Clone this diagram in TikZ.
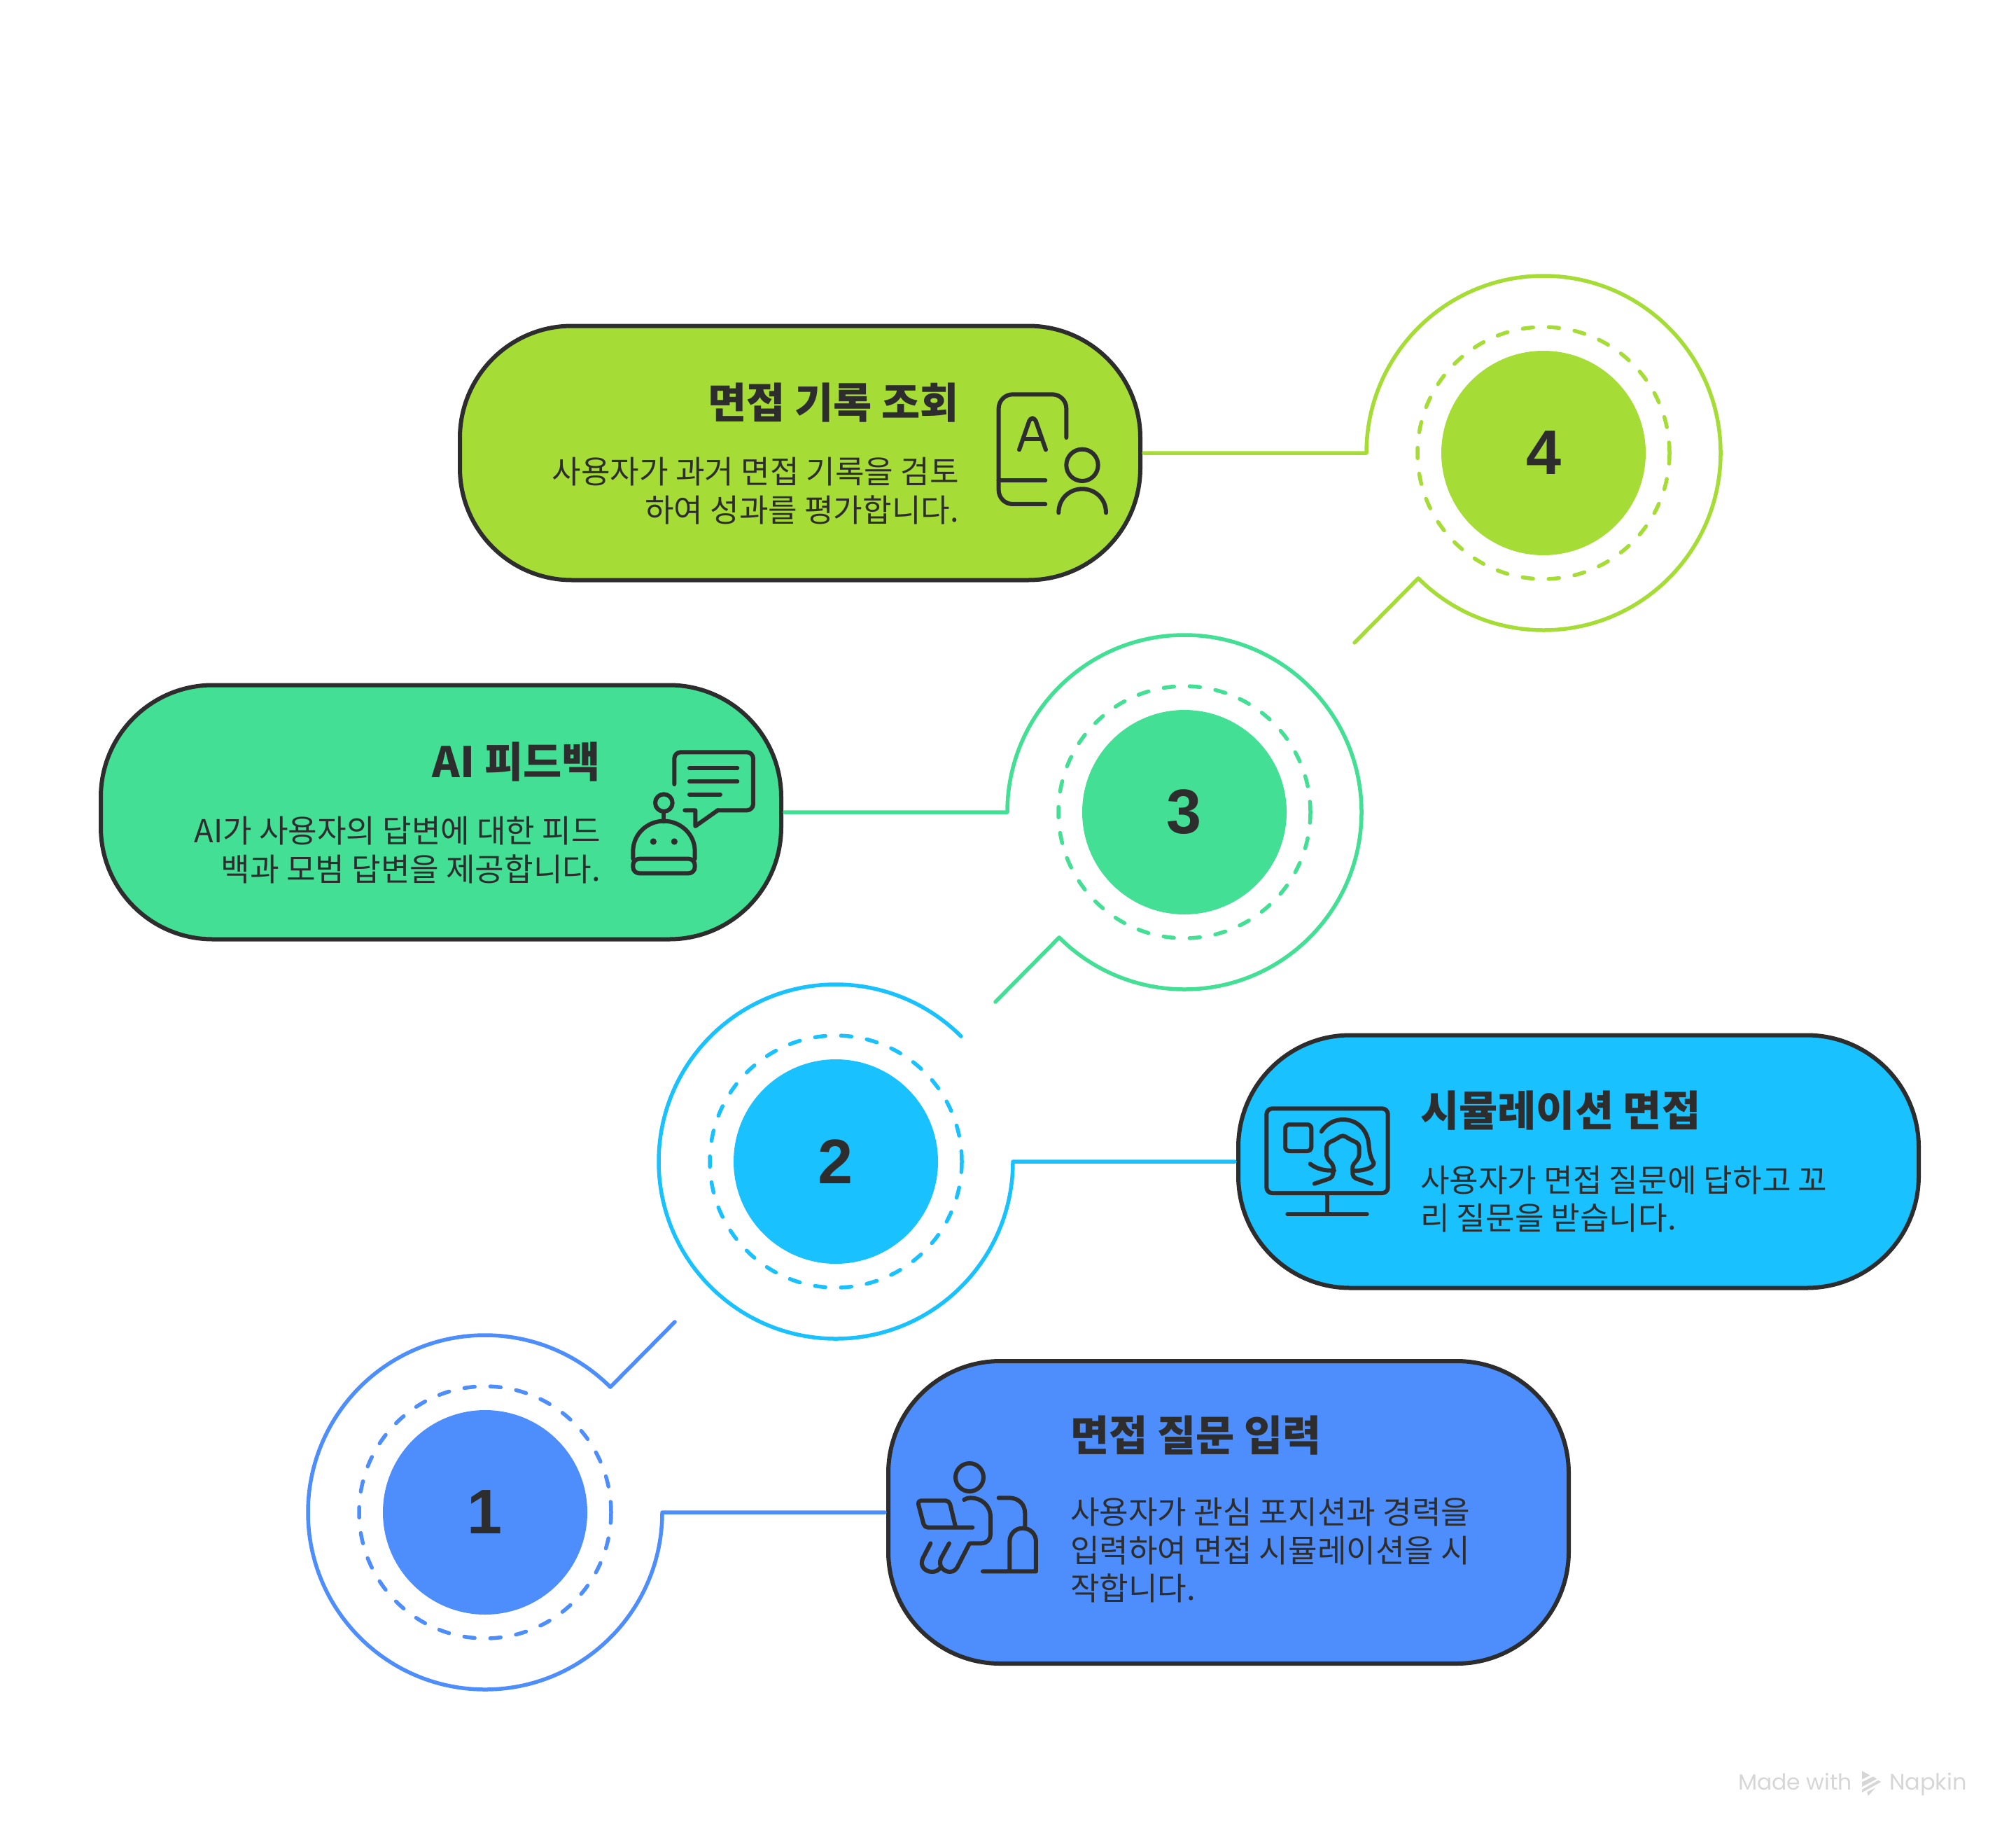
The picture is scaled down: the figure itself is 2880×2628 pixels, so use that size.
\documentclass[tikz,border=0pt]{standalone}
\usepackage{fontspec}
\setmainfont{Noto Sans CJK KR}
\newfontfamily\numfont{Liberation Sans}
\newfontfamily\markfont{Poppins}
\usetikzlibrary{positioning}
\definecolor{lime}{HTML}{A6DC36}
\definecolor{mint}{HTML}{43DF95}
\definecolor{sky}{HTML}{19C1FF}
\definecolor{azure}{HTML}{4D8EFC}
\definecolor{ink}{HTML}{2D2D2D}
\definecolor{faint}{HTML}{D6D6D6}
\tikzset{
  box/.style={draw=ink,line width=6pt,rounded corners=160pt,minimum width=972pt,inner sep=0pt,outer sep=0pt},
  disc/.style={circle,minimum size=292pt,inner sep=0pt,outer sep=0pt,text=ink,font=\fontsize{90}{90}\selectfont\numfont\bfseries},
  ring/.style={circle,draw,line width=5.5pt,line cap=round,dash pattern=on 15pt off 22.2pt,minimum size=360pt,inner sep=0pt,outer sep=0pt},
  link/.style={line width=5.5pt,line join=round,line cap=round,shorten <=5pt},
  headline/.style={inner sep=0pt,text=ink,font=\fontsize{60}{66}\selectfont\bfseries},
  body/.style={inner sep=0pt,text=ink,font=\fontsize{45.2}{54.5}\selectfont},
  glyph/.style={draw=ink,line width=6pt,line cap=round,line join=round}
}
\begin{document}
\begin{tikzpicture}[x=1pt,y=-1pt]
\useasboundingbox (0,0) rectangle (2880,2628);
% Place boxes
\node [box,fill=lime,minimum height=363pt] (box4) at (1143,647) {};
\node [box,fill=mint,minimum height=363pt] (box3) at (630,1160) {};
\node [box,fill=sky,minimum height=361pt] (box2) at (2255,1659) {};
\node [box,fill=azure,minimum height=432pt] (box1) at (1755,2160) {};
% Place discs
\node [disc,fill=lime,right=430pt of box4] (disc4) {4};
\node [disc,fill=mint,right=430pt of box3] (disc3) {3};
\node [disc,fill=sky,left=429pt of box2] (disc2) {2};
\node [disc,fill=azure,left=430pt of box1] (disc1) {1};
% Place rings
\node [ring,draw=lime] (ring4) at (disc4) {};
\node [ring,draw=mint] (ring3) at (disc3) {};
\node [ring,draw=sky] (ring2) at (disc2) {};
\node [ring,draw=azure] (ring1) at (disc1) {};
% Place link ends
\coordinate [left=253pt of disc4.center] (bend4);
\coordinate [left=253pt of disc3.center] (bend3);
\coordinate [right=253pt of disc2.center] (bend2);
\coordinate [right=253pt of disc1.center] (bend1);
\coordinate (tail4) at (1935,918);
\coordinate (tail3) at (1422,1431);
\coordinate (tail1) at (964,1888);
% Links
\draw [link,draw=lime] (box4.east) -- (bend4) arc [start angle=180,delta angle=-315,radius=253pt] -- (tail4);
\draw [link,draw=mint] (box3.east) -- (bend3) arc [start angle=180,delta angle=-315,radius=253pt] -- (tail3);
\draw [link,draw=sky] (box2.west) -- (bend2) arc [start angle=0,delta angle=-315,radius=253pt];
\draw [link,draw=azure] (box1.west) -- (bend1) arc [start angle=0,delta angle=-315,radius=253pt] -- (tail1);
% Place texts
\node [headline,anchor=east] (title4) at (1370,575) {면접 기록 조회};
\node [body,align=right,below left=50pt and 0pt of title4.south east] (note4) {사용자가 과거 면접 기록을 검토\\하여 성과를 평가합니다.};
\node [headline,anchor=east] (title3) at (858,1088) {AI 피드백};
\node [body,align=right,below left=50pt and 0pt of title3.south east] (note3) {AI가 사용자의 답변에 대한 피드\\백과 모범 답변을 제공합니다.};
\node [headline,anchor=west] (title2) at (2029,1586) {시뮬레이션 면접};
\node [body,align=left,below right=50pt and 0pt of title2.south west] (note2) {사용자가 면접 질문에 답하고 꼬\\리 질문을 받습니다.};
\node [headline,anchor=west] (title1) at (1529,2050) {면접 질문 입력};
\node [body,align=left,below right=61pt and 0pt of title1.south west] (note1) {사용자가 관심 포지션과 경력을\\입력하여 면접 시뮬레이션을 시\\작합니다.};
% Record icon
\begin{scope}[shift={(1380,520)},x=0.3333pt,y=-0.3333pt]
\draw [glyph,rounded corners=60pt/3] (430,315) -- (430,130) -- (140,130) -- (140,600) -- (340,600);
\draw [glyph] (140,498) -- (340,498);
\draw [glyph,rounded corners=4pt] (228,367) -- (275,232) -- (295,232) -- (342,367);
\draw [glyph] (245,322) -- (325,322);
\draw [glyph] (498,433) circle [radius=68];
\draw [glyph] (397,637) .. controls (397,575) and (445,535) .. (498,535) .. controls (551,535) and (600,575) .. (600,637);
\end{scope}
% Robot icon
\begin{scope}[shift={(880,1050)},x=0.3333pt,y=-0.3333pt]
\draw [glyph,rounded corners=9pt] (250,210) -- (250,73) -- (588,73) -- (588,322) -- (435,322);
\draw [glyph] (436,322) -- (340,390) -- (340,322) -- (295,322);
\draw [glyph] (315,141) -- (520,141);
\draw [glyph] (315,198) -- (520,198);
\draw [glyph] (315,254) -- (447,254);
\draw [glyph] (205,290) circle [radius=37];
\draw [glyph] (205,327) -- (205,370);
\draw [glyph] (73,530) -- (73,497) .. controls (73,425) and (133,368) .. (205,368) .. controls (277,368) and (338,425) .. (338,497) -- (338,530);
\draw [glyph,rounded corners=9pt] (73,530) -- (73,592) -- (338,592) -- (338,530) -- cycle;
\fill [ink] (160,456) circle [radius=14];
\fill [ink] (250,456) circle [radius=14];
\end{scope}
% Monitor icon
\begin{scope}[shift={(1780,1550)},x=0.3333pt,y=-0.3333pt]
\draw [glyph,rounded corners=8pt] (88,100) rectangle (608,462);
\draw [glyph] (348,462) -- (348,552);
\draw [glyph] (178,552) -- (518,552);
\draw [glyph,rounded corners=6pt] (168,168) rectangle (280,282);
\draw [glyph] (323,198) .. controls (345,165) and (380,147) .. (415,147) .. controls (480,147) and (525,195) .. (527,265) .. controls (530,300) and (540,320) .. (548,333) .. controls (545,355) and (510,365) .. (460,367);
\draw [glyph] (275,337) .. controls (305,360) and (340,367) .. (378,365);
\draw [glyph,rounded corners=5pt] (293,422) -- (372,395) -- (376,345) -- (345,310) -- (345,250) -- (385,232) -- (415,212) -- (445,232) -- (485,250) -- (485,310) -- (455,345) -- (458,395) -- (537,422);
\end{scope}
% Person icon
\begin{scope}[shift={(1280,2060)},x=0.3333pt,y=-0.3333pt]
\draw [glyph] (315,150) circle [radius=60];
\draw [glyph] (228,433) -- (193,497) .. controls (178,530) and (205,555) .. (232,555) .. controls (250,555) and (262,540) .. (268,525) -- (315,433) -- (365,433) .. controls (390,433) and (405,415) .. (405,395) -- (405,320) .. controls (405,270) and (365,238) .. (320,238) .. controls (310,238) and (300,240) .. (292,246);
\draw [glyph] (148,433) -- (115,497) .. controls (100,530) and (125,555) .. (155,555) .. controls (170,555) and (183,548) .. (192,535);
\draw [glyph,rounded corners=5pt] (328,365) -- (122,365) -- (92,250) -- (228,250) -- (256,365);
\draw [glyph] (440,238) -- (485,238) .. controls (525,238) and (553,265) .. (553,305) -- (553,370);
\draw [glyph] (372,553) -- (600,553) -- (600,425) .. controls (600,393) and (575,368) .. (543,368) .. controls (511,368) and (487,393) .. (487,425) -- (487,553);
\end{scope}
% Watermark
\node [inner sep=0pt,anchor=base west,text=faint,font=\fontsize{31.5}{32}\selectfont\markfont] (made) at (2483,2556) {Made with};
\node [inner sep=0pt,anchor=base west,text=faint,font=\fontsize{32}{32}\selectfont\markfont] (napkin) at (2699,2556) {Napkin};
\begin{scope}[shift={(2440,2500)},x=0.3333pt,y=-0.3333pt]
\fill [faint] (660,88) -- (695,107) -- (660,124) -- cycle;
\fill [faint] (660,136) -- (708,112) -- (724,122) -- (660,156) -- cycle;
\fill [faint] (660,168) -- (730,128) -- (742,135) -- (660,180) -- cycle;
\fill [faint] (682,178) -- (718,160) -- (686,195) -- cycle;
\end{scope}
\end{tikzpicture}
\end{document}
